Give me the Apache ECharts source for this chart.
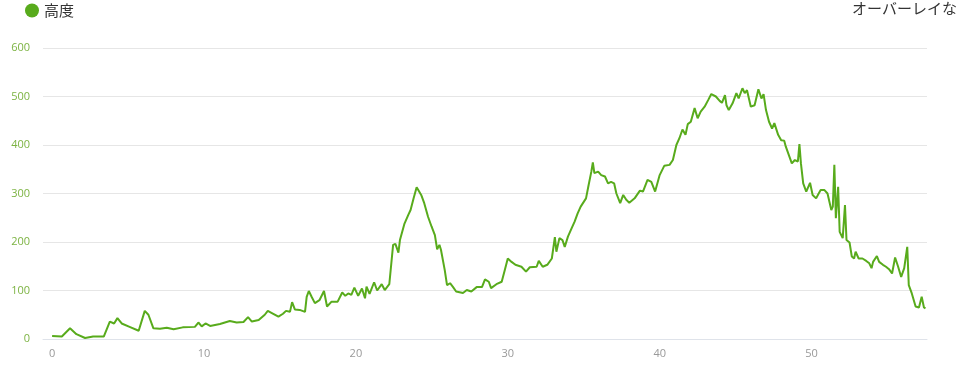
<!DOCTYPE html>
<html>
<head>
<meta charset="utf-8">
<style>
  html, body { margin: 0; padding: 0; background: #fff; }
  #profile { width: 960px; height: 385px; }
</style>
<script src="https://cdn.jsdelivr.net/npm/echarts@6/dist/echarts.min.js"></script>
</head>
<body>
<div id="profile"></div>
<script>
// 距離 (km)
var distances = [
  0, 0.64, 1.18, 1.6, 2.17, 2.7, 3.4, 3.8, 4.08, 4.3, 4.58, 5.1, 5.7, 6.1, 6.34, 6.67,
  7.1, 7.55, 8.0, 8.6, 9.4, 9.63, 9.85, 10.1, 10.4, 11.05, 11.7, 12.15, 12.6, 12.9, 13.15,
  13.6, 14.0, 14.2, 14.56, 14.9, 15.2, 15.4, 15.66, 15.8, 15.98, 16.3, 16.65, 16.76, 16.9,
  17.1, 17.3, 17.6, 17.9, 18.1, 18.4, 18.8, 19.1, 19.3, 19.5, 19.7, 19.9, 20.15, 20.4,
  20.6, 20.7, 20.9, 21.2, 21.4, 21.7, 21.9, 22.2, 22.45, 22.6, 22.8, 22.9, 23.2, 23.3,
  23.45, 23.6, 23.8, 24.0, 24.3, 24.5, 24.75, 24.98, 25.2, 25.35, 25.5, 25.6, 25.85,
  26.0, 26.2, 26.4, 26.6, 27.05, 27.3, 27.6, 27.95, 28.3, 28.5, 28.75, 28.9, 29.25,
  29.6, 29.8, 30.0, 30.25, 30.5, 30.9, 31.2, 31.45, 31.9, 32.04, 32.3, 32.6, 32.9,
  33.1, 33.2, 33.4, 33.6, 33.75, 33.96, 34.2, 34.4, 34.6, 34.8, 35.15, 35.3, 35.5,
  35.6, 35.7, 35.95, 36.15, 36.4, 36.6, 36.8, 37.0, 37.15, 37.4, 37.6, 37.8, 38.0,
  38.35, 38.7, 38.9, 39.2, 39.45, 39.7, 40.0, 40.3, 40.65, 40.87, 41.1, 41.3, 41.5,
  41.7, 41.85, 42.05, 42.3, 42.5, 42.7, 42.96, 43.2, 43.4, 43.7, 43.95, 44.1, 44.3,
  44.4, 44.55, 44.8, 45.05, 45.2, 45.45, 45.6, 45.75, 46.0, 46.25, 46.5, 46.7, 46.84,
  47.0, 47.2, 47.4, 47.55, 47.8, 48.0, 48.2, 48.3, 48.4, 48.7, 48.9, 49.1, 49.2, 49.3,
  49.45, 49.65, 49.9, 50.07, 50.3, 50.45, 50.6, 50.85, 51.05, 51.3, 51.4, 51.5, 51.6,
  51.75, 51.85, 52.05, 52.2, 52.3, 52.5, 52.65, 52.8, 52.9, 53.1, 53.35, 53.6, 53.8,
  53.95, 54.05, 54.3, 54.45, 54.7, 54.9, 55.1, 55.3, 55.5, 55.7, 55.9, 56.1, 56.3,
  56.4, 56.6, 56.85, 57.07, 57.25, 57.4, 57.5
];
// 高度 (m)
var elevations = [
  6, 5, 22, 10, 2, 5, 5, 36, 32, 43, 32, 25, 17, 58, 50, 22,
  21, 23, 20, 24, 25, 34, 26, 32, 27, 31, 37, 34, 35, 45, 36,
  39, 50, 58, 52, 46, 52, 58, 56, 76, 61, 60, 56, 87, 99,
  86, 74, 80, 99, 67, 77, 77, 96, 89, 94, 91, 106, 89, 104,
  84, 108, 93, 117, 100, 113, 101, 113, 194, 196, 178, 204, 238, 242,
  256, 266, 290, 313, 297, 280, 252, 232, 214, 185, 194, 184, 142,
  111, 115, 107, 98, 95, 101, 98, 107, 107, 123, 118, 105, 113,
  118, 142, 166, 159, 153, 149, 139, 148, 149, 161, 149, 153, 166,
  210, 180, 208, 204, 190, 211, 228, 242, 259, 273, 290, 314, 345,
  364, 342, 345, 338, 335, 321, 324, 321, 300, 280, 297, 287, 281,
  290, 306, 304, 328, 324, 304, 338, 357, 359, 369, 400, 414, 432,
  421, 443, 448, 476, 455, 469, 479, 493, 505, 500, 491, 487, 503,
  482, 472, 486, 507, 496, 517, 507, 513, 479, 482, 515, 496, 505,
  472, 448, 434, 445, 421, 410, 409, 397, 398, 362, 369, 366, 402, 362,
  321, 304, 322, 297, 290, 299, 307, 307, 300, 266, 273, 359, 249,
  314, 221, 208, 276, 204, 199, 170, 166, 180, 166, 166, 161, 156,
  146, 159, 171, 159, 153, 149, 144, 135, 168, 149, 128, 146, 190,
  111, 94, 67, 65, 87, 65, 63
];
var xTicks = [0, 10, 20, 30, 40, 50];
var yTicks = [0, 100, 200, 300, 400, 500, 600];

(function() {
	var myChart = echarts.init(document.querySelector("#profile"));
	var points = distances.map(function(d, i) { return [d, elevations[i]]; });

	var option = {
		animation: false,
		textStyle: { fontFamily: '"Open Sans", "Noto Sans CJK JP", sans-serif' },
		legend: {
			left: 20,
			top: -2,
			icon: 'circle',
			itemWidth: 14,
			itemHeight: 14,
			itemGap: 6,
			textStyle: { fontSize: 15, color: '#333', fontFamily: '"Noto Sans CJK JP", sans-serif' },
			data: ['高度']
		},
		graphic: [{
			type: 'text',
			left: 852,
			top: 1,
			style: {
				text: 'オーバーレイなし',
				fontSize: 15,
				fill: '#333',
				fontFamily: '"Noto Sans CJK JP", sans-serif'
			}
		}],
		grid: { left: 43, right: 33, top: 48, bottom: 46 },
		xAxis: {
			type: 'value',
			min: -0.6,
			max: 57.6,
			axisLine: { show: true, lineStyle: { color: '#dfe3ea' } },
			axisTick: { show: false },
			splitLine: { show: false },
			axisLabel: {
				customValues: xTicks,
				color: '#999',
				fontSize: 11,
				margin: 9
			}
		},
		yAxis: {
			type: 'value',
			min: 0,
			max: 600,
			interval: 100,
			axisLine: { show: false },
			axisTick: { show: false },
			splitLine: { lineStyle: { color: '#e6e6e6' } },
			axisLabel: {
				customValues: yTicks,
				color: '#7cb342',
				fontSize: 11,
				margin: 13
			}
		},
		series: [{
			name: '高度',
			type: 'line',
			data: points,
			showSymbol: false,
			color: '#58ab1c',
			lineStyle: { width: 2, color: '#58ab1c' }
		}]
	};
	myChart.setOption(option);
})();
</script>
</body>
</html>
